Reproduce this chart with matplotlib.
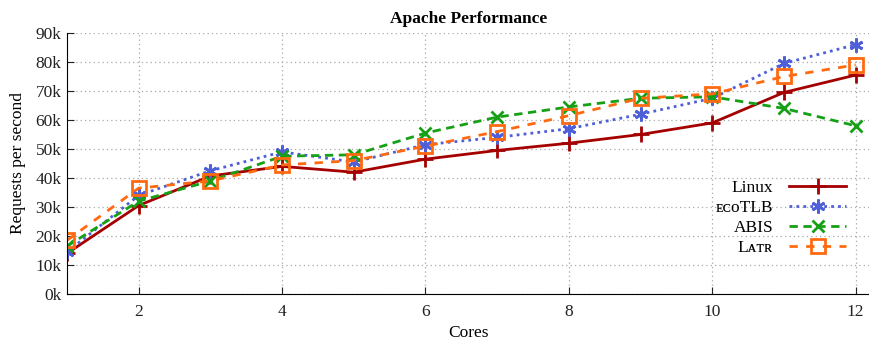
import numpy as np
import matplotlib
matplotlib.use('Agg')
import matplotlib.pyplot as plt

# Data
cores = [1, 2, 3, 4, 5, 6, 7, 8, 9, 10, 11, 12]
linux = [14000, 30500, 40700, 44000, 42000, 46500, 49500, 52000, 55000, 59000, 69500, 75500]
ecotlb = [14500, 34000, 42500, 49000, 45500, 51500, 54000, 57000, 62000, 67500, 79500, 86000]
abis = [16500, 32000, 39000, 47500, 48000, 55500, 61000, 64500, 67500, 68000, 64000, 58000]
latr = [18500, 36500, 39000, 44500, 46000, 51000, 56000, 61500, 67500, 69000, 75000, 79000]

labels = ['Linux', 'ᴇᴄᴏTLB', 'ABIS', 'Lᴀᴛʀ']
y_ticks = [0, 10000, 20000, 30000, 40000, 50000, 60000, 70000, 80000, 90000]
y_ticklabels = ['%dk' % (v // 1000) for v in y_ticks]
x_ticks = [2, 4, 6, 8, 10, 12]

plt.rcParams['font.family'] = ['Liberation Serif', 'DejaVu Serif']
plt.rcParams['font.size'] = 12.5

fig = plt.figure(figsize=(8.69, 3.43), dpi=100)
ax = fig.add_axes([67 / 869, 49 / 343, 803 / 869, 261 / 343])

ax.plot(cores, linux, color='#a50000', lw=2, ls='-', marker='+', ms=11, mew=2,
        label=labels[0])
ax.plot(cores, ecotlb, color='#4f5fd8', lw=2, ls=(0, (1, 1.5)), marker=(6, 2, 0), ms=10, mew=2,
        label=labels[1])
ax.plot(cores, abis, color='#16a016', lw=2, ls=(0, (3, 2)), marker='x', ms=9, mew=2,
        label=labels[2])
ax.plot(cores, latr, color='#ff6a10', lw=2, ls=(0, (3, 3)), marker='s', ms=10, mew=2,
        mfc='none', label=labels[3])

ax.set_xlim(1, 12.2)
ax.set_ylim(0, 90000)
ax.set_xticks(x_ticks)
ax.set_yticks(y_ticks)
ax.set_yticklabels(y_ticklabels)
ax.tick_params(direction='in', length=5, width=0.8, colors='#222222')
ax.tick_params(axis='x', pad=7)
ax.tick_params(axis='y', pad=4)
ax.grid(True, ls=(0, (1, 2.5)), color='#a8a8a8', lw=0.9)
ax.spines['top'].set_visible(False)
ax.spines['right'].set_visible(False)

ax.set_title('Apache Performance', fontweight='bold', fontsize=12.5, pad=7)
ax.set_xlabel('Cores', labelpad=4)
ax.set_ylabel('Requests per second', labelpad=7)

ax.legend(loc='lower right', bbox_to_anchor=(0.99, 0.085), frameon=False, markerfirst=False,
          handlelength=3.3, labelspacing=0.22, handletextpad=0.9, fontsize=12.5)

fig.savefig('out.png', dpi=100)
